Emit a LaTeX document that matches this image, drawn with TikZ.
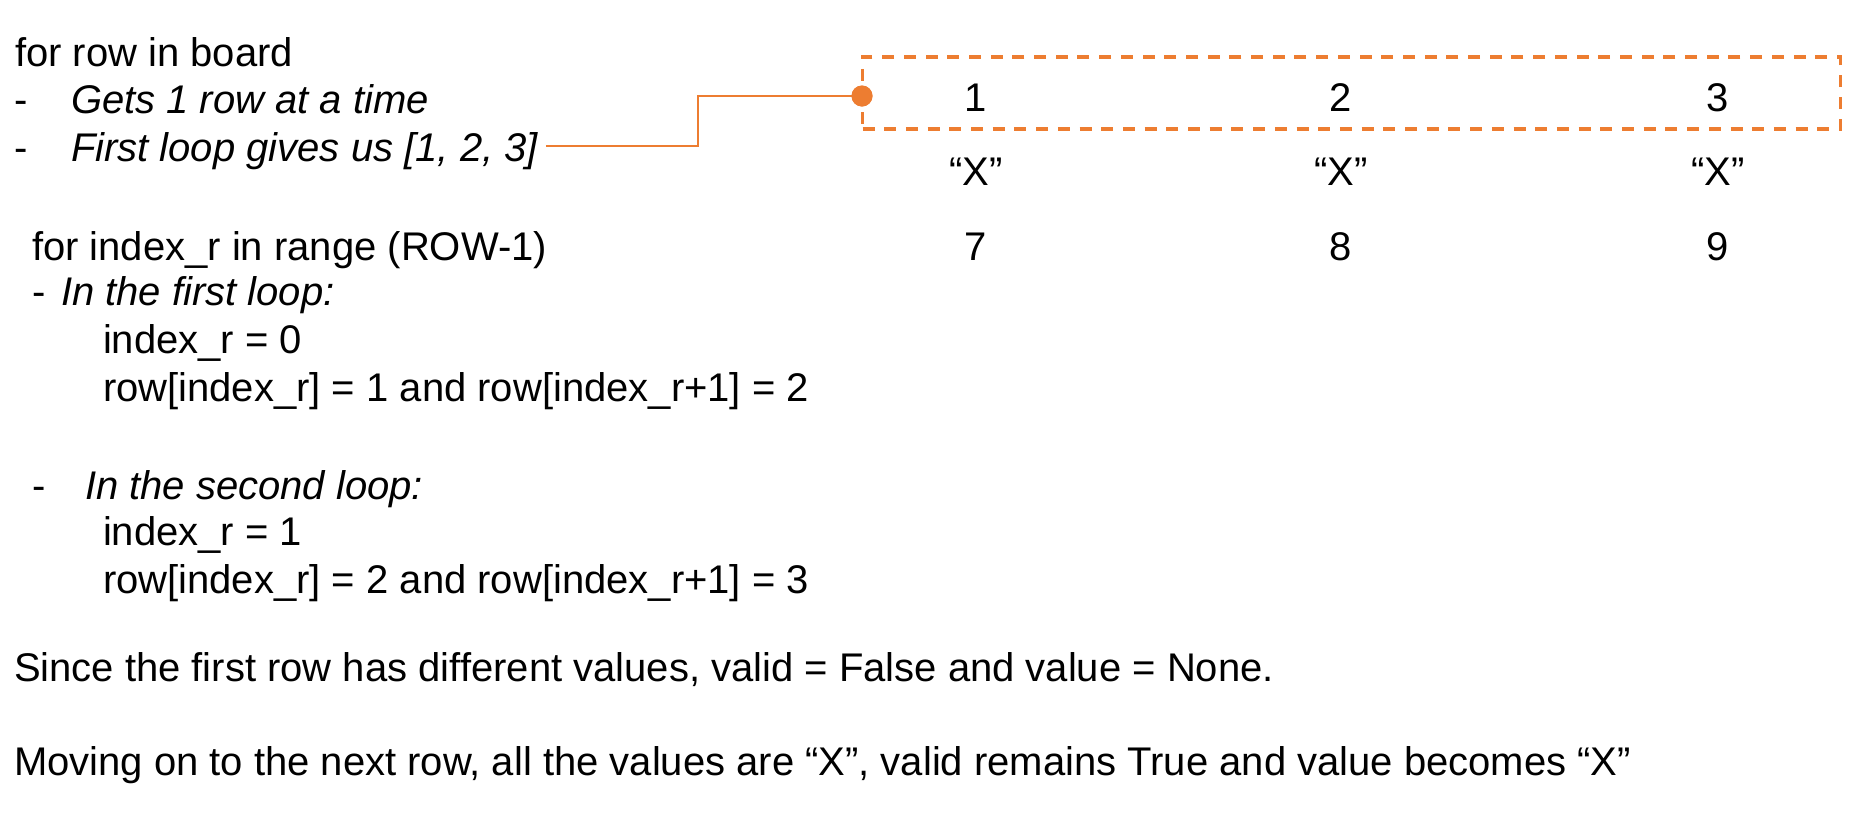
\documentclass[tikz,border=0pt]{standalone}
\usepackage{fontspec}
\setmainfont{Liberation Sans}
\begin{document}
\begin{tikzpicture}[x=1pt,y=-1pt,
  txt/.style={anchor=base west,inner sep=0pt,outer sep=0pt,font=\fontsize{40}{48}\selectfont},
  num/.style={anchor=base,inner sep=0pt,font=\fontsize{40}{48}\selectfont},
  conn/.style={draw=orange1,line width=2pt},
  rowbox/.style={draw=orange1,line width=3.3pt,dash pattern=on 12pt off 9.7pt,minimum width=978pt,minimum height=72pt,inner sep=0pt},
  dotnode/.style={circle,fill=orange1,minimum size=21pt,inner sep=0pt}]
\definecolor{orange1}{HTML}{ED7D31}
\useasboundingbox (0,0) rectangle (1853,815);
% left column
\node[txt] (t1) at (15,66) {for row in board};
\node[txt] (d1) at (14,113) {-};
\node[txt] (t2) at (71,113) {\itshape Gets 1 row at a time};
\node[txt] (d2) at (14,161) {-};
\node[txt] (t3) at (71,161) {\itshape First loop gives us [1, 2, 3]};
\node[txt] (t4) at (32,260) {for index\_r in range (ROW-1)};
\node[txt] (d3) at (32,305) {-};
\node[txt] (t5) at (61,305) {\itshape In the first loop:};
\node[txt] (t6) at (103,353) {index\_r = 0};
\node[txt] (t7) at (103,401) {row[index\_r] = 1 and row[index\_r+1] = 2};
\node[txt] (d4) at (32,499) {-};
\node[txt] (t8) at (85,499) {\itshape In the second loop:};
\node[txt] (t9) at (103,545) {index\_r = 1};
\node[txt] (t10) at (103,593) {row[index\_r] = 2 and row[index\_r+1] = 3};
\node[txt] (t11) at (14,681) {Since the first row has different values, valid = False and value = None.};
\node[txt] (t12) at (14,775) {Moving on to the next row, all the values are “X”, valid remains True and value becomes “X”};
% board
\node[rowbox] (box) at (1351.5,93) {};
\node[num] (n1) at (976,111) {1};
\node[num] (n2) at (1341,111) {2};
\node[num] (n3) at (1718,111) {3};
\node[num] (x1) at (976,185) {“X”};
\node[num] (x2) at (1341,185) {“X”};
\node[num] (x3) at (1718,185) {“X”};
\node[num] (n7) at (976,260) {7};
\node[num] (n8) at (1341,260) {8};
\node[num] (n9) at (1718,260) {9};
% connector
\coordinate (bend) at (698,146);
\node[dotnode] (dot) at (862,96) {};
\draw[conn] ([xshift=8pt]t3.east |- bend) -- (bend) |- (dot.center);
\node[dotnode] at (dot) {};
\end{tikzpicture}
\end{document}
